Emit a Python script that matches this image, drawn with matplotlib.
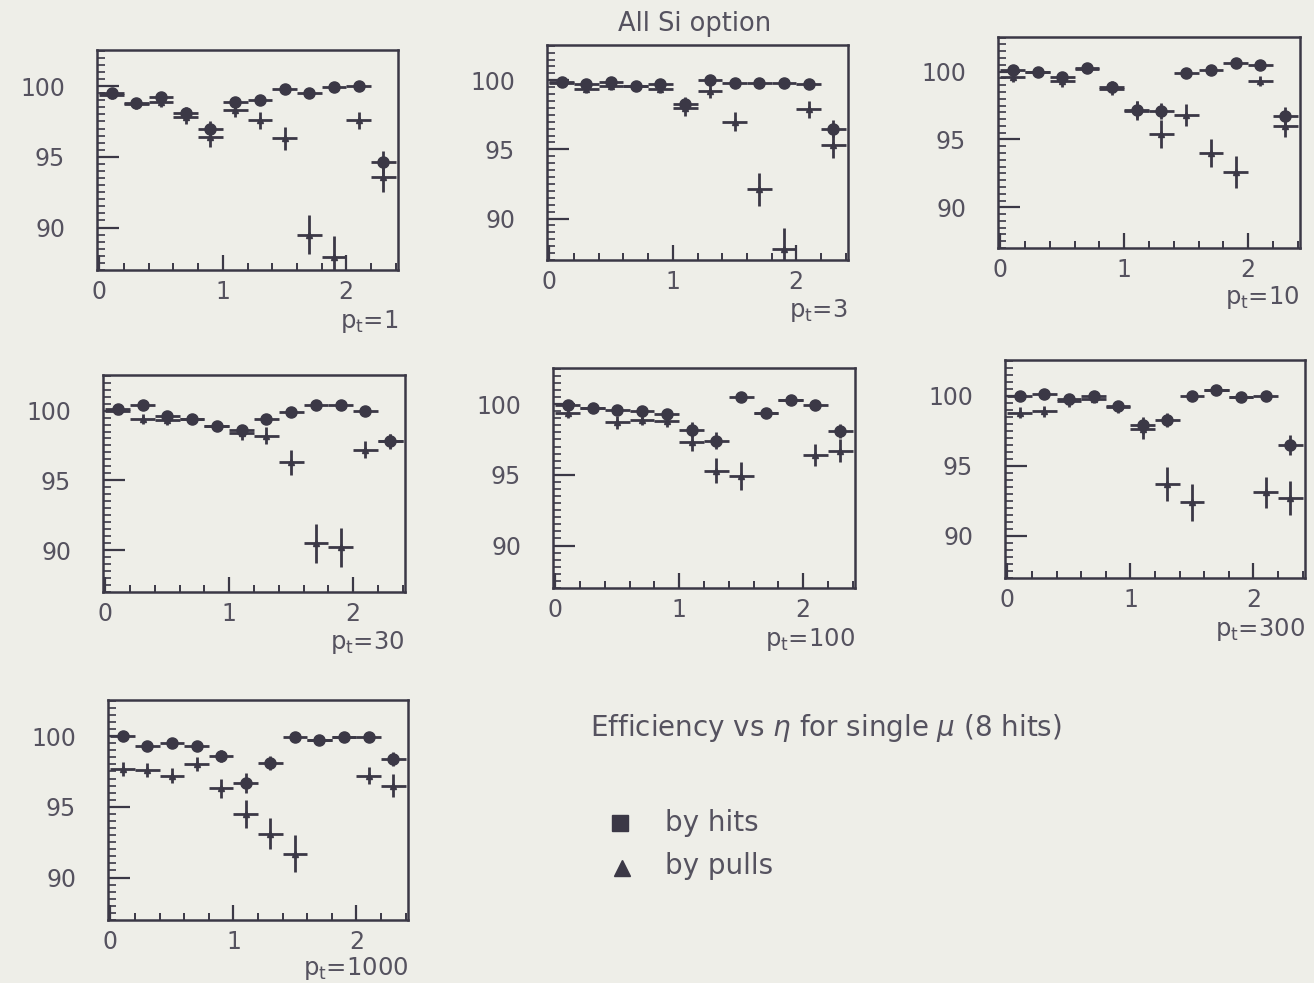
import matplotlib
matplotlib.use("Agg")
import matplotlib.pyplot as plt
import numpy as np
from matplotlib.ticker import MultipleLocator, FixedLocator

# ---------------- data ----------------
eta_centers = [0.1, 0.3, 0.5, 0.7, 0.9, 1.1, 1.3, 1.5, 1.7, 1.9, 2.1, 2.3]
eta_halfwidth = 0.1

panel_labels = ["1", "3", "10", "30", "100", "300", "1000"]

hits_pt1 = [99.5, 98.8, 99.2, 98.1, 97.0, 98.9, 99.0, 99.8, 99.5, 99.9, 100.0, 94.6]
pulls_pt1 = [99.4, 98.7, 98.9, 97.8, 96.4, 98.3, 97.6, 96.3, 89.5, 87.9, 97.6, 93.6]
hits_err_pt1 = [0.3, 0.3, 0.3, 0.4, 0.5, 0.35, 0.35, 0.2, 0.3, 0.2, 0.2, 0.8]
pulls_err_pt1 = [0.3, 0.35, 0.35, 0.5, 0.7, 0.5, 0.6, 0.8, 1.4, 1.5, 0.6, 1.1]

hits_pt3 = [99.9, 99.7, 99.9, 99.6, 99.7, 98.3, 100.0, 99.8, 99.8, 99.8, 99.7, 96.5]
pulls_pt3 = [99.8, 99.4, 99.6, 99.6, 99.4, 98.0, 99.2, 97.0, 92.1, 87.8, 97.9, 95.3]
hits_err_pt3 = [0.3, 0.3, 0.3, 0.25, 0.3, 0.5, 0.2, 0.2, 0.2, 0.2, 0.2, 0.6]
pulls_err_pt3 = [0.3, 0.35, 0.3, 0.3, 0.35, 0.6, 0.45, 0.7, 1.2, 1.5, 0.6, 0.9]

hits_pt10 = [100.1, 100.0, 99.6, 100.3, 98.9, 97.2, 97.1, 99.9, 100.1, 100.6, 100.5, 96.7]
pulls_pt10 = [99.6, 100.0, 99.3, 100.2, 98.7, 97.1, 95.4, 96.8, 94.0, 92.6, 99.3, 96.0]
hits_err_pt10 = [0.3, 0.3, 0.35, 0.25, 0.4, 0.6, 0.6, 0.2, 0.2, 0.2, 0.2, 0.7]
pulls_err_pt10 = [0.35, 0.3, 0.4, 0.25, 0.45, 0.7, 1.0, 0.8, 1.0, 1.2, 0.35, 0.8]

hits_pt30 = [100.1, 100.4, 99.6, 99.4, 98.9, 98.6, 99.4, 99.9, 100.4, 100.4, 100.0, 97.8]
pulls_pt30 = [100.0, 99.4, 99.3, 99.4, 98.9, 98.4, 98.2, 96.3, 90.5, 90.2, 97.2, 97.8]
hits_err_pt30 = [0.2, 0.3, 0.35, 0.3, 0.35, 0.4, 0.35, 0.2, 0.2, 0.2, 0.2, 0.5]
pulls_err_pt30 = [0.2, 0.35, 0.35, 0.3, 0.35, 0.5, 0.6, 0.9, 1.4, 1.4, 0.6, 0.55]

hits_pt100 = [99.9, 99.7, 99.6, 99.5, 99.3, 98.2, 97.4, 100.5, 99.4, 100.3, 99.9, 98.1]
pulls_pt100 = [99.4, 99.7, 98.7, 98.9, 98.8, 97.3, 95.3, 94.9, 99.4, 100.3, 96.4, 96.7]
hits_err_pt100 = [0.3, 0.25, 0.3, 0.35, 0.35, 0.5, 0.6, 0.2, 0.25, 0.2, 0.2, 0.5]
pulls_err_pt100 = [0.35, 0.25, 0.45, 0.4, 0.4, 0.6, 0.9, 1.0, 0.25, 0.2, 0.8, 0.8]

hits_pt300 = [100.0, 100.1, 99.8, 100.0, 99.3, 97.9, 98.3, 100.0, 100.4, 99.9, 100.0, 96.5]
pulls_pt300 = [98.8, 98.9, 99.6, 99.8, 99.2, 97.6, 93.7, 92.4, 100.4, 99.9, 93.1, 92.7]
hits_err_pt300 = [0.3, 0.3, 0.35, 0.35, 0.35, 0.6, 0.5, 0.2, 0.2, 0.2, 0.2, 0.7]
pulls_err_pt300 = [0.4, 0.4, 0.4, 0.35, 0.4, 0.7, 1.2, 1.3, 0.2, 0.2, 1.1, 1.2]

hits_pt1000 = [100.0, 99.3, 99.5, 99.3, 98.6, 96.7, 98.1, 99.9, 99.7, 99.9, 99.9, 98.4]
pulls_pt1000 = [97.7, 97.6, 97.2, 98.0, 96.3, 94.5, 93.1, 91.7, 99.7, 99.9, 97.2, 96.5]
hits_err_pt1000 = [0.3, 0.3, 0.3, 0.35, 0.45, 0.7, 0.5, 0.2, 0.2, 0.2, 0.2, 0.5]
pulls_err_pt1000 = [0.5, 0.5, 0.55, 0.5, 0.7, 1.0, 1.1, 1.3, 0.2, 0.2, 0.6, 0.8]

panels_hits = [hits_pt1, hits_pt3, hits_pt10, hits_pt30, hits_pt100, hits_pt300, hits_pt1000]
panels_pulls = [pulls_pt1, pulls_pt3, pulls_pt10, pulls_pt30, pulls_pt100, pulls_pt300, pulls_pt1000]
panels_hits_err = [hits_err_pt1, hits_err_pt3, hits_err_pt10, hits_err_pt30,
                   hits_err_pt100, hits_err_pt300, hits_err_pt1000]
panels_pulls_err = [pulls_err_pt1, pulls_err_pt3, pulls_err_pt10, pulls_err_pt30,
                    pulls_err_pt100, pulls_err_pt300, pulls_err_pt1000]

y_ticks = [90, 95, 100]
x_ticks = [0, 1, 2]

title_text = "All Si option"
caption_text = "Efficiency vs $\\eta$ for single $\\mu$ (8 hits)"
legend_hits = "by hits"
legend_pulls = "by pulls"

# ---------------- layout (pixel boxes: left, right, top, bottom) ----------------
W, H = 1314, 983
boxes = [
    (97, 398, 50, 270),
    (547, 848, 45, 260),
    (998, 1300, 37, 248),
    (103, 405, 375, 592),
    (553, 855, 368, 588),
    (1005, 1305, 360, 578),
    (108, 408, 700, 920),
]

BG = "#eeeee8"
INK = "#3b3846"
TXT = "#55525f"

plt.rcParams['font.family'] = ['DejaVu Sans']
plt.rcParams['mathtext.fontset'] = 'dejavusans'

fig = plt.figure(figsize=(W / 100, H / 100), dpi=100, facecolor=BG)

for i, (l, r, t, b) in enumerate(boxes):
    ax = fig.add_axes([l / W, 1 - b / H, (r - l) / W, (b - t) / H])
    ax.set_facecolor(BG)
    ax.set_xlim(-0.02, 2.42)
    ax.set_ylim(87.0, 102.55)

    ax.errorbar(eta_centers, panels_pulls[i], xerr=eta_halfwidth, yerr=panels_pulls_err[i],
                fmt='^', ms=4.5, color=INK, ecolor=INK, elinewidth=2.0, capsize=0, zorder=3)
    ax.errorbar(eta_centers, panels_hits[i], xerr=eta_halfwidth, yerr=panels_hits_err[i],
                fmt='o', ms=8, color=INK, ecolor=INK, elinewidth=2.0, capsize=0, zorder=4)

    for s in ax.spines.values():
        s.set_color(INK)
        s.set_linewidth(1.8)

    ax.xaxis.set_major_locator(FixedLocator(x_ticks))
    ax.xaxis.set_minor_locator(MultipleLocator(0.2))
    ax.yaxis.set_major_locator(FixedLocator(y_ticks))
    ax.yaxis.set_minor_locator(MultipleLocator(0.5))
    ax.tick_params(axis='both', which='both', direction='in', color=INK,
                   top=False, right=False, labelcolor=TXT, labelsize=17)
    ax.tick_params(axis='x', which='major', length=11, width=1.6, pad=7)
    ax.tick_params(axis='x', which='minor', length=5, width=1.4)
    ax.tick_params(axis='y', which='major', length=16, width=1.6, pad=23)
    ax.tick_params(axis='y', which='minor', length=6, width=1.2)

    ylab = -0.235 if i < 6 else -0.22
    ax.text(1.0, ylab, "p$_{\\rm t}$=" + panel_labels[i], transform=ax.transAxes,
            ha='right', va='center', fontsize=17.5, color=TXT)

fig.text(695 / W, 1 - 24 / H, title_text, ha='center', va='center',
         fontsize=18.5, color=TXT)
fig.text(590 / W, 1 - 728 / H, caption_text, ha='left', va='center',
         fontsize=20, color=TXT)

# legend (drawn as markers in figure coordinates)
leg_ax = fig.add_axes([0, 0, 1, 1], facecolor='none')
leg_ax.set_xlim(0, W)
leg_ax.set_ylim(H, 0)
leg_ax.axis('off')
leg_ax.plot([620], [823], marker='s', ms=12, color=INK, linestyle='none')
leg_ax.plot([622], [868], marker='^', ms=12, color=INK, linestyle='none')
leg_ax.text(665, 823, legend_hits, ha='left', va='center', fontsize=20, color=TXT)
leg_ax.text(665, 866, legend_pulls, ha='left', va='center', fontsize=20, color=TXT)

fig.savefig("out.png", dpi=100, facecolor=BG)
